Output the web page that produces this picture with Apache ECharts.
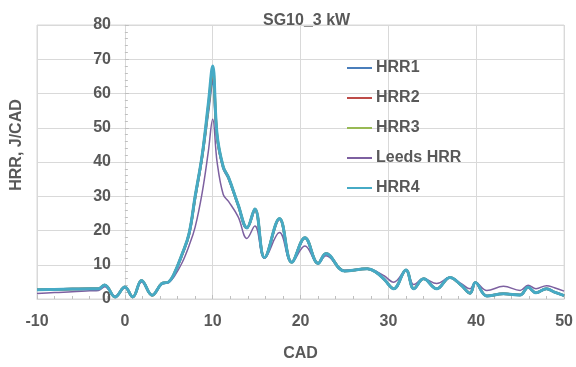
<!DOCTYPE html>
<html>
<head>
<meta charset="utf-8">
<script src="https://cdn.jsdelivr.net/npm/echarts@6/dist/echarts.min.js"></script>
<style>
  html, body { margin: 0; padding: 0; background: #fff; }
  #chart { width: 576px; height: 367px; }
</style>
</head>
<body>
<div id="chart"></div>
<script>
// crank angle positions (CAD) where values were read
const cad = [-10, -8, -6, -4, -3, -2.3, -1.1, 0, 0.9, 1.9, 3.1, 4.2, 5.0, 5.6, 6.5, 7.3, 8.0, 8.8, 9.5, 10,
  10.5, 11.2, 11.8, 12.9, 13.9, 14.8, 15.9, 17.6, 19.0, 20.5, 22.0, 22.9, 25.0, 27.6, 28.5, 29.5, 30.6,
  32.0, 32.9, 34.0, 35.5, 37.0, 38.3, 39.3, 39.9, 41.2, 43.1, 45.0, 45.9, 46.8, 48.0, 48.9, 50]

const hrr1 = [2.7, 2.8, 2.9, 3.0, 3.0, 4.0, 0.6, 3.5, 0.6, 5.3, 1.1, 4.5, 5.0, 7.2, 12.8, 18.8, 29.5, 41.5, 55, 64,
  47, 38.3, 35.3, 27.3, 20.7, 26.0, 12.1, 23.3, 10.7, 17.8, 10.4, 13.3, 8.2, 8.8, 8.0, 5.8, 3.0,
  8.4, 3.0, 5.9, 3.0, 6.3, 4.0, 1.7, 4.8, 0.9, 1.5, 1.2, 3.4, 1.8, 3.0, 2.0, 1.0]
const hrr2 = [2.7, 2.8, 2.9, 3.0, 3.0, 4.1, 0.6, 3.5, 0.6, 5.4, 1.1, 4.5, 5.0, 7.3, 12.9, 18.9, 29.8, 41.8, 56, 66,
  47.5, 38.5, 35.4, 27.4, 20.8, 26.2, 12.1, 23.4, 10.7, 17.9, 10.4, 13.3, 8.2, 8.8, 8.0, 5.8, 3.0,
  8.5, 3.0, 5.9, 3.0, 6.3, 4.0, 1.7, 4.8, 0.9, 1.5, 1.2, 3.4, 1.8, 3.0, 2.0, 1.0]
const hrr3 = [2.7, 2.8, 2.9, 3.0, 3.0, 4.1, 0.6, 3.5, 0.6, 5.4, 1.1, 4.5, 5.0, 7.3, 13.0, 19.0, 29.9, 41.9, 56.5, 67,
  47.8, 38.6, 35.5, 27.5, 20.8, 26.3, 12.1, 23.5, 10.7, 17.9, 10.4, 13.3, 8.2, 8.8, 8.0, 5.8, 3.0,
  8.5, 3.0, 5.9, 3.0, 6.3, 4.0, 1.7, 4.8, 0.9, 1.5, 1.2, 3.4, 1.8, 3.0, 2.0, 1.0]
const leeds = [1.6, 1.9, 2.1, 2.4, 2.5, 3.6, 0.8, 3.3, 0.7, 5.0, 1.2, 4.3, 4.8, 6.5, 10.5, 15.5, 21, 31, 43, 52.5,
  40, 30.5, 28.5, 24, 17.7, 21.3, 11.9, 19.4, 10.7, 15.5, 10.4, 12.6, 8.3, 8.8, 8.2, 6.8, 4.9,
  8.3, 4.2, 5.9, 4.5, 6.3, 4.5, 3.0, 4.8, 2.5, 3.7, 2.5, 4.0, 3.0, 3.9, 3.3, 2.3]
const hrr4 = [2.7, 2.8, 2.9, 3.0, 3.0, 4.1, 0.6, 3.5, 0.6, 5.4, 1.1, 4.5, 5.0, 7.3, 13.0, 19.0, 30.0, 42.0, 57, 68,
  48, 38.6, 35.5, 27.5, 20.8, 26.3, 12.1, 23.5, 10.7, 17.9, 10.4, 13.3, 8.2, 8.8, 8.0, 5.8, 3.0,
  8.5, 3.0, 5.9, 3.0, 6.3, 4.0, 1.7, 4.8, 0.9, 1.5, 1.2, 3.4, 1.8, 3.0, 2.0, 1.0]

const seriesNames = ['HRR1', 'HRR2', 'HRR3', 'Leeds HRR', 'HRR4']
const seriesColors = ['#4a7ebb', '#be4b48', '#98b954', '#7d60a0', '#46aac5']
const seriesWidths = [2.5, 2.5, 2.5, 1.5, 3]
const seriesValues = [hrr1, hrr2, hrr3, leeds, hrr4]

const textColor = '#595959'
const gridColor = '#d9d9d9'
const font = 'Liberation Sans, Arial, sans-serif'

const chart = echarts.init(document.getElementById('chart'), null, { renderer: 'canvas' })

const series = seriesNames.map((name, i) => ({
  name,
  type: 'line',
  smooth: 0.4,
  symbol: 'none',
  lineStyle: { width: seriesWidths[i], color: seriesColors[i] },
  itemStyle: { color: seriesColors[i] },
  data: cad.map((x, j) => [x, seriesValues[i][j]]),
}))

chart.setOption({
  animation: false,
  title: {
    text: 'SG10_3 kW',
    left: 258,
    top: 8,
    textStyle: { fontFamily: font, fontSize: 16, fontWeight: 'bold', color: textColor },
  },
  legend: {
    orient: 'vertical',
    left: 347,
    top: 60,
    padding: 0,
    icon: 'rect',
    itemWidth: 25,
    itemHeight: 2,
    itemGap: 14,
    textStyle: { fontFamily: font, fontSize: 16, fontWeight: 'bold', color: textColor, lineHeight: 16, padding: [0, 0, 0, -1] },
    data: seriesNames,
  },
  grid: {
    left: 37, right: 9, top: 25, bottom: 65,
    show: true, borderColor: gridColor, borderWidth: 1,
  },
  xAxis: {
    type: 'value',
    min: -10, max: 50, interval: 10,
    name: 'CAD',
    nameLocation: 'middle',
    nameGap: 47,
    nameTextStyle: { fontFamily: font, fontSize: 16, fontWeight: 'bold', color: textColor },
    axisLine: { lineStyle: { color: gridColor } },
    axisTick: { show: true, inside: true, length: 4, lineStyle: { color: '#bfbfbf' } },
    minorTick: { show: true, splitNumber: 5, length: 3, lineStyle: { color: '#bfbfbf' } },
    axisLabel: { fontFamily: font, fontSize: 16, fontWeight: 'bold', color: textColor, margin: 15 },
    splitLine: { show: true, lineStyle: { color: gridColor } },
  },
  yAxis: {
    type: 'value',
    min: 0, max: 80, interval: 10,
    axisLine: { show: true, onZero: true, lineStyle: { color: gridColor } },
    axisTick: { show: true, inside: true, length: 4, lineStyle: { color: '#bfbfbf' } },
    minorTick: { show: true, splitNumber: 5, length: 3, lineStyle: { color: '#bfbfbf' } },
    // labels sit beside the axis line at CAD = 0, not at the grid edge
    axisLabel: { fontFamily: font, fontSize: 16, fontWeight: 'bold', color: textColor, margin: -74 },
    splitLine: { show: true, lineStyle: { color: gridColor } },
  },
  graphic: [{
    type: 'text',
    x: 17,
    y: 145,
    rotation: Math.PI / 2,
    style: {
      text: 'HRR, J/CAD',
      fontFamily: font, fontSize: 16, fontWeight: 'bold',
      fill: textColor, align: 'center', verticalAlign: 'middle',
    },
  }],
  series,
})
</script>
</body>
</html>
